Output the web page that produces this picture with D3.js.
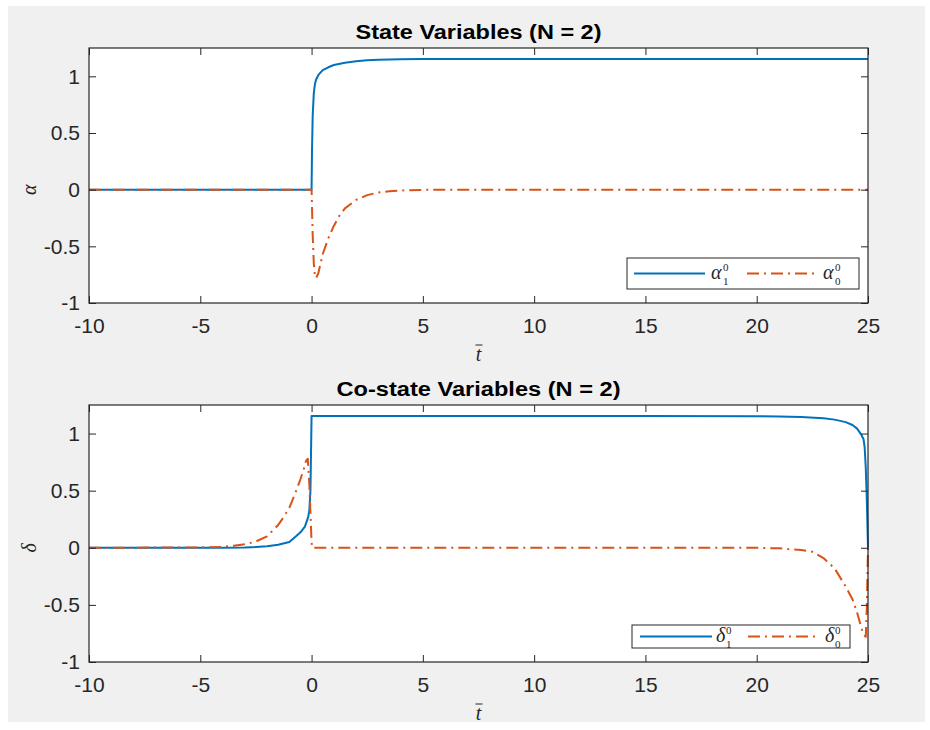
<!DOCTYPE html>
<html>
<head>
<meta charset="utf-8">
<script src="https://d3js.org/d3.v7.min.js"></script>
<style>
  html, body { margin: 0; padding: 0; background: #ffffff; }
  svg { display: block; }
</style>
</head>
<body>
<svg id="chart" width="930" height="730"></svg>
<script>
// ---------------- DATA ----------------
const xTicks = [-10, -5, 0, 5, 10, 15, 20, 25];
const yTicks = [-1, -0.5, 0, 0.5, 1];
const yTickLabels = ["-1", "-0.5", "0", "0.5", "1"];
const xTickLabels = ["-10", "-5", "0", "5", "10", "15", "20", "25"];

const titles = ["State Variables (N = 2)", "Co-state Variables (N = 2)"];
const yLabels = ["α", "δ"];

// State variables
const alpha1T = [-10, 0, 0.02, 0.05, 0.1, 0.15, 0.2, 0.3, 0.5, 0.75, 1, 1.5, 2, 2.5, 3, 4, 5, 25];
const alpha1V = [0, 0, 0.35, 0.65, 0.85, 0.93, 0.97, 1.01, 1.055, 1.08, 1.1, 1.12, 1.133, 1.142, 1.147, 1.151, 1.153, 1.153];
const alpha0T = [-10, 0, 0.05, 0.1, 0.15, 0.2, 0.3, 0.5, 0.75, 1, 1.25, 1.5, 2, 2.5, 3, 3.5, 4, 5, 6, 25];
const alpha0V = [0, 0, -0.4, -0.65, -0.76, -0.78, -0.74, -0.57, -0.43, -0.32, -0.23, -0.165, -0.09, -0.048, -0.025, -0.013, -0.007, -0.002, 0, 0];

// Co-state variables
const delta1T = [-10, -4, -3, -2.5, -2, -1.5, -1, -0.7, -0.5, -0.3, -0.15, -0.1, -0.05, 0, 15, 20, 21, 22, 23, 23.5, 24, 24.3, 24.5, 24.7, 24.8, 24.85, 24.9, 24.95, 25];
const delta1V = [0, 0, 0.003, 0.007, 0.014, 0.026, 0.05, 0.1, 0.135, 0.185, 0.27, 0.33, 0.5, 1.153, 1.153, 1.152, 1.15, 1.145, 1.135, 1.122, 1.1, 1.075, 1.045, 0.99, 0.95, 0.88, 0.7, 0.4, 0];
const delta0T = [-10, -5, -4, -3.5, -3, -2.5, -2, -1.5, -1.25, -1, -0.75, -0.5, -0.35, -0.25, -0.17, -0.1, -0.05, 0, 0.03, 20, 21, 22, 22.5, 23, 23.5, 24, 24.3, 24.5, 24.7, 24.8, 24.9, 24.95, 25];
const delta0V = [0, 0.003, 0.008, 0.018, 0.03, 0.055, 0.1, 0.2, 0.27, 0.35, 0.47, 0.6, 0.69, 0.76, 0.78, 0.55, 0.3, 0.05, 0, 0, -0.005, -0.02, -0.035, -0.09, -0.18, -0.34, -0.45, -0.56, -0.7, -0.76, -0.78, -0.5, 0];

const seriesColors = ["#0072BD", "#D95319"];

// ---------------- LAYOUT ----------------
const svg = d3.select("#chart");
svg.append("rect").attr("x", 8).attr("y", 6).attr("width", 917).attr("height", 716).attr("fill", "#f0f0f0");

const panels = [
  { top: 48, bottom: 303, title: titles[0], titleW: 246, ylab: yLabels[0],
    s1: { t: alpha1T, v: alpha1V }, s0: { t: alpha0T, v: alpha0V },
    legend: { x: 627, y: 258, w: 232, h: 31 } },
  { top: 405, bottom: 662, title: titles[1], titleW: 284, ylab: yLabels[1],
    s1: { t: delta1T, v: delta1V }, s0: { t: delta0T, v: delta0V },
    legend: { x: 632, y: 625, w: 218, h: 23 } }
];

const left = 89, right = 868;
const axisColor = "#262626";
const sansFont = "'Liberation Sans', Arial, Helvetica, sans-serif";
const serifFont = "'Liberation Serif', 'DejaVu Serif', serif";

panels.forEach((p, pi) => {
  const x = d3.scaleLinear().domain([-10, 25]).range([left, right]);
  const y = d3.scaleLinear().domain([-1, 1.25]).range([p.bottom, p.top]);
  const g = svg.append("g");

  g.append("rect").attr("x", left).attr("y", p.top).attr("width", right - left).attr("height", p.bottom - p.top).attr("fill", "#ffffff");

  const clipId = "clip" + pi;
  svg.append("clipPath").attr("id", clipId).append("rect")
    .attr("x", left).attr("y", p.top - 2).attr("width", right - left + 1).attr("height", p.bottom - p.top + 4);

  const line = d3.line().x(d => x(d[0])).y(d => y(d[1]));
  const d1 = p.s1.t.map((t, i) => [t, p.s1.v[i]]);
  const d0 = p.s0.t.map((t, i) => [t, p.s0.v[i]]);

  const lines = g.append("g").attr("clip-path", `url(#${clipId})`);
  lines.append("path").attr("d", line(d1)).attr("fill", "none")
    .attr("stroke", seriesColors[0]).attr("stroke-width", 2).attr("stroke-linejoin", "round");
  lines.append("path").attr("d", line(d0)).attr("fill", "none")
    .attr("stroke", seriesColors[1]).attr("stroke-width", 2).attr("stroke-dasharray", "12,5,2,5").attr("stroke-linejoin", "round");

  const tl = 7;
  const xb = d3.axisBottom(x).tickValues(xTicks).tickSize(-tl).tickPadding(15).tickFormat((d, i) => xTickLabels[i]);
  const xAx = g.append("g").attr("transform", `translate(0,${p.bottom})`).call(xb);
  const xt = d3.axisTop(x).tickValues(xTicks).tickSize(-tl).tickFormat("");
  const xAxT = g.append("g").attr("transform", `translate(0,${p.top})`).call(xt);
  const yl = d3.axisLeft(y).tickValues(yTicks).tickSize(-tl).tickPadding(9).tickFormat((d, i) => yTickLabels[i]);
  const yAx = g.append("g").attr("transform", `translate(${left},0)`).call(yl);
  const yr = d3.axisRight(y).tickValues(yTicks).tickSize(-tl).tickFormat("");
  const yAxR = g.append("g").attr("transform", `translate(${right},0)`).call(yr);

  [xAx, xAxT, yAx, yAxR].forEach(a => {
    a.select(".domain").remove();
    a.selectAll(".tick line").attr("stroke", axisColor).attr("stroke-width", 1);
    a.selectAll(".tick text").attr("fill", axisColor).style("font-family", sansFont).style("font-size", "21px");
  });

  g.append("rect").attr("x", left).attr("y", p.top).attr("width", right - left).attr("height", p.bottom - p.top)
    .attr("fill", "none").attr("stroke", axisColor).attr("stroke-width", 1.2);

  g.append("text").attr("x", (left + right) / 2).attr("y", p.top - 9)
    .attr("text-anchor", "middle").attr("fill", "#000")
    .attr("textLength", p.titleW).attr("lengthAdjust", "spacingAndGlyphs")
    .style("font-family", sansFont).style("font-weight", "bold").style("font-size", "20px")
    .text(p.title);

  g.append("text").attr("transform", `translate(36,${y(0)}) rotate(-90)`)
    .attr("text-anchor", "middle").attr("fill", axisColor)
    .style("font-family", serifFont).style("font-style", "italic").style("font-size", "20px")
    .text(p.ylab);

  const cx = (left + right) / 2;
  const by = p.bottom + 58;
  g.append("text").attr("x", cx).attr("y", by).attr("text-anchor", "middle").attr("fill", axisColor)
    .style("font-family", serifFont).style("font-style", "italic").style("font-size", "20px").text("t");
  g.append("line").attr("x1", cx - 3).attr("x2", cx + 4).attr("y1", by - 16).attr("y2", by - 16)
    .attr("stroke", axisColor).attr("stroke-width", 1);

  const L = p.legend;
  const lg = g.append("g");
  lg.append("rect").attr("x", L.x).attr("y", L.y).attr("width", L.w).attr("height", L.h)
    .attr("fill", "#ffffff").attr("stroke", axisColor).attr("stroke-width", 1);
  const ly = L.y + L.h / 2;
  const entries = pi === 0
    ? [{ x1: 634, x2: 705, lx: 711, c: seriesColors[0], dash: null, sub: "1" },
       { x1: 747, x2: 818, lx: 823, c: seriesColors[1], dash: "12,5,2,5", sub: "0" }]
    : [{ x1: 640, x2: 712, lx: 716, c: seriesColors[0], dash: null, sub: "1" },
       { x1: 748, x2: 820, lx: 825, c: seriesColors[1], dash: "12,5,2,5", sub: "0" }];
  entries.forEach(e => {
    const ln = lg.append("line").attr("x1", e.x1).attr("x2", e.x2).attr("y1", ly).attr("y2", ly)
      .attr("stroke", e.c).attr("stroke-width", 2);
    if (e.dash) ln.attr("stroke-dasharray", e.dash);
    lg.append("text").attr("x", e.lx).attr("y", ly + 5).attr("fill", axisColor)
      .style("font-family", serifFont).style("font-style", "italic").style("font-size", "20px").text(p.ylab);
    const sx = e.lx + (p.ylab === "α" ? 12 : 10);
    lg.append("text").attr("x", sx).attr("y", ly - 3).attr("fill", axisColor)
      .style("font-family", serifFont).style("font-size", "11px").text("0");
    lg.append("text").attr("x", sx).attr("y", ly + 11).attr("fill", axisColor)
      .style("font-family", serifFont).style("font-size", "11px").text(e.sub);
  });
});
</script>
</body>
</html>
